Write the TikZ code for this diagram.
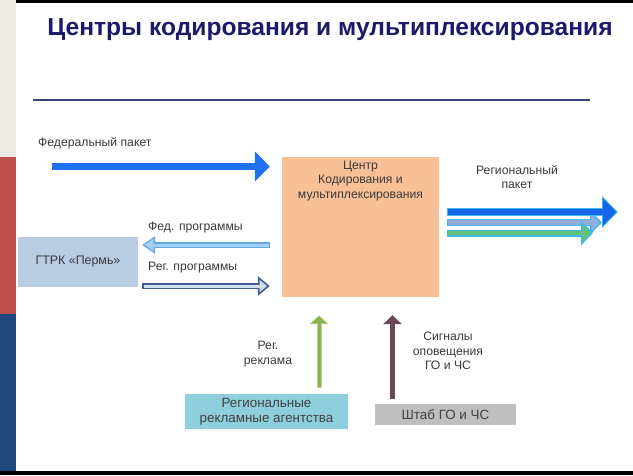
\documentclass[tikz,border=0pt]{standalone}
\usepackage{fontspec}
\setmainfont{Liberation Sans}
\usetikzlibrary{arrows.meta,calc}
\definecolor{beige}{HTML}{ECEBE3}
\definecolor{stripred}{HTML}{C0504D}
\definecolor{stripblue}{HTML}{1F497D}
\definecolor{titlenavy}{HTML}{1E1A6A}
\definecolor{rulecol}{HTML}{2E4A7A}
\definecolor{peach}{HTML}{F8C096}
\definecolor{gtrkfill}{HTML}{B8CCE4}
\definecolor{agfill}{HTML}{8ECFDD}
\definecolor{shfill}{HTML}{BFBFBF}
\definecolor{fedblue}{HTML}{1E72F0}
\definecolor{fpfill}{HTML}{A3D0F3}
\definecolor{fpline}{HTML}{63A6E0}
\definecolor{rpline}{HTML}{3F5F8F}
\definecolor{rpfill}{HTML}{D3DEEC}
\definecolor{upgreen}{HTML}{8DB350}
\definecolor{maroon}{HTML}{6A4657}
\definecolor{rgblue}{HTML}{1565E6}
\definecolor{rgsteel}{HTML}{93AEDA}
\definecolor{rggreen}{HTML}{66C27A}
\definecolor{rgline}{HTML}{3FB8F0}
\definecolor{txt}{HTML}{3A3A3A}
\tikzset{
  lbl/.style={text=txt, font=\fontsize{12.2}{14.5}\selectfont, inner sep=0pt, align=center},
  boxnode/.style={inner sep=0pt, align=center, text=txt},
}
\begin{document}
\begin{tikzpicture}[x=1pt,y=-1pt]
\useasboundingbox (0,0) rectangle (633,475);
\fill[white] (0,0) rectangle (633,475);
% left strip
\fill[beige] (0,0) rectangle (15.5,157);
\fill[stripred] (0,157) rectangle (15.5,314);
\fill[stripblue] (0,314) rectangle (15.5,471);
% top and bottom bands
\fill[black] (15.5,0) rectangle (633,2.5);
\fill[black] (0,471) rectangle (633,475);
% title
\node[text=titlenavy, font=\bfseries\fontsize{24.6}{28}\selectfont, inner sep=0pt] (title) at (330,30) {Центры кодирования и мультиплексирования};
% rule
\coordinate (ruleA) at (33,100);
\coordinate (ruleB) at (590,100);
\draw[rulecol, line width=1.3pt] (ruleA) -- (ruleB);
% boxes
\node[boxnode, fill=peach, minimum width=157pt, minimum height=140pt] (center) at (360.5,227) {};
\node[lbl, anchor=north] (centertxt) at (360.5,160.5) {Центр\\Кодирования и\\мультиплексирования};
\node[boxnode, fill=gtrkfill, minimum width=120pt, minimum height=50pt, font=\fontsize{12.4}{14}\selectfont] (gtrk) at (78,262) {ГТРК «Пермь»};
\node[boxnode, fill=agfill, minimum width=163pt, minimum height=35pt, font=\fontsize{13.4}{15}\selectfont, text=black!75] (agency) at (266.5,411.5) {Региональные\\рекламные агентства};
\node[boxnode, fill=shfill, minimum width=141pt, minimum height=21pt, font=\fontsize{13.4}{15}\selectfont, text=black!75] (shtab) at (445.5,414.5) {Штаб ГО и ЧС};
% labels
\node[lbl, anchor=west] (fedlbl) at (38,143) {Федеральный пакет};
\node[lbl, anchor=west] (fplbl) at (148,228) {Фед. программы};
\node[lbl, anchor=west] (rplbl) at (148,268) {Рег. программы};
\node[lbl] (rglbl) at (517,177) {Региональный\\пакет};
\node[lbl] (reklbl) at (268,354) {Рег.\\реклама};
\node[lbl] (siglbl) at (448,351) {Сигналы\\оповещения\\ГО и ЧС};
% federal packet arrow
\coordinate (fedstart) at (52,166.5);
\draw[fedblue, line width=7pt, -{Triangle[length=15pt,width=29pt]}, shorten >=12pt] (fedstart) -- (fedstart -| center.west);
% fed programmes arrow (to GTRK)
\coordinate (fpy) at (0,245);
\draw[fpline, line width=5.5pt, -{Triangle[length=13pt,width=17pt]}, shorten >=4pt, shorten <=12pt] (fpy -| center.west) -- (fpy -| gtrk.east);
\draw[fpfill, line width=3pt, -{Triangle[length=9pt,width=12pt]}, shorten >=6.5pt, shorten <=13.2pt] (fpy -| center.west) -- (fpy -| gtrk.east);
% reg programmes arrow (from GTRK)
\coordinate (rpy) at (0,286);
\draw[rpline, line width=6pt, -{Triangle[length=12pt,width=19pt]}, shorten >=12pt, shorten <=4pt] (rpy -| gtrk.east) -- (rpy -| center.west);
\draw[rpfill, line width=3pt, -{Triangle[length=7.5pt,width=12pt]}, shorten >=14.8pt, shorten <=5.5pt] (rpy -| gtrk.east) -- (rpy -| center.west);
% regional packet arrows
\coordinate (rgend) at (633,0);
\coordinate (r2y) at (0,222.5);
\draw[rgline, line width=7.5pt, -{Triangle[length=12pt,width=24pt]}, shorten >=31pt, shorten <=8pt] (r2y -| center.east) -- (r2y -| rgend);
\draw[rgsteel, line width=4.5pt, -{Triangle[length=8pt,width=17pt]}, shorten >=33.5pt, shorten <=9.2pt] (r2y -| center.east) -- (r2y -| rgend);
\coordinate (r3y) at (0,233);
\draw[rgline, line width=7pt, -{Triangle[length=12pt,width=24pt]}, shorten >=40pt, shorten <=8pt] (r3y -| center.east) -- (r3y -| rgend);
\draw[rggreen, line width=4.2pt, -{Triangle[length=8pt,width=17pt]}, shorten >=42.5pt, shorten <=9.2pt] (r3y -| center.east) -- (r3y -| rgend);
\coordinate (r1y) at (0,212);
\draw[rgline, line width=8.5pt, -{Triangle[length=16pt,width=31pt]}, shorten >=15pt, shorten <=8pt] (r1y -| center.east) -- (r1y -| rgend);
\draw[rgblue, line width=6pt, -{Triangle[length=13pt,width=26pt]}, shorten >=16.8pt, shorten <=9.2pt] (r1y -| center.east) -- (r1y -| rgend);
% upward arrows
\coordinate (gx) at (319,0);
\draw[upgreen!60, line width=5pt, -{Triangle[length=9pt,width=19pt]}, shorten >=18pt, shorten <=6pt] (gx |- agency.north) -- (gx |- center.south);
\draw[upgreen, line width=3pt, -{Triangle[length=7pt,width=15pt]}, shorten >=19.2pt, shorten <=6.5pt] (gx |- agency.north) -- (gx |- center.south);
\coordinate (mx) at (392.5,0);
\draw[maroon, line width=5pt, -{Triangle[length=9pt,width=18pt]}, shorten >=18pt, shorten <=5pt] (mx |- shtab.north) -- (mx |- center.south);
\end{tikzpicture}
\end{document}
